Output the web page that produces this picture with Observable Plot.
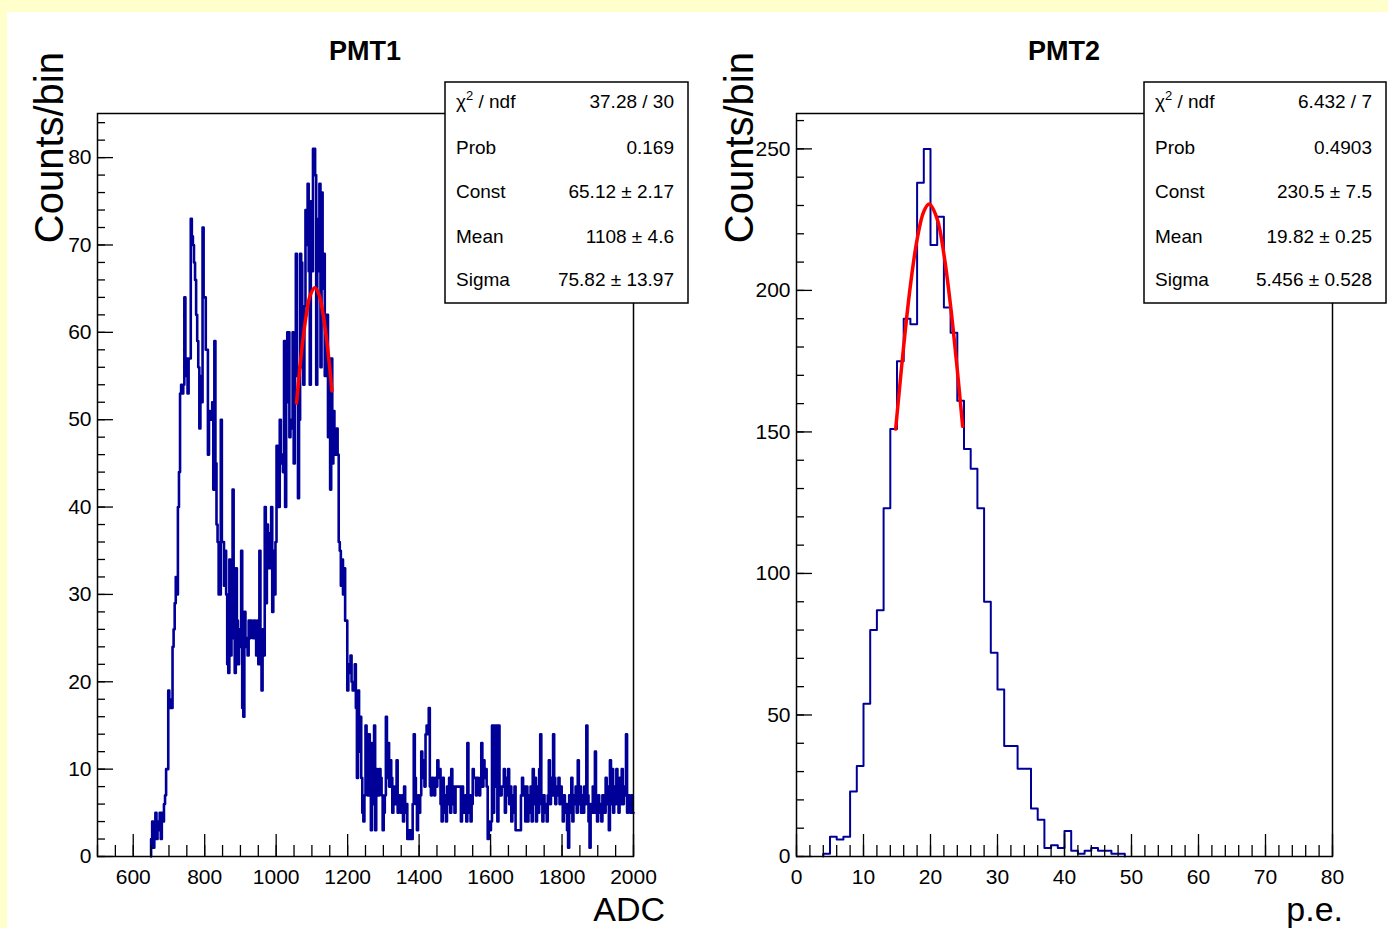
<!DOCTYPE html>
<html><head><meta charset="utf-8">
<script src="https://cdn.jsdelivr.net/npm/d3@7"></script>
<script src="https://cdn.jsdelivr.net/npm/@observablehq/plot@0.6"></script>
<style>
html,body{margin:0;padding:0;}
body{width:1388px;height:928px;background:#ffffcc;position:relative;overflow:hidden;font-family:"Liberation Sans",Arial,Helvetica,sans-serif;}
#canvas{position:absolute;left:7px;top:12px;right:0;bottom:0;background:#fff;}
.panel{position:absolute;top:0;}
</style>
</head><body>
<div id="canvas"></div>
<div id="p1" class="panel" style="left:0px"></div>
<div id="p2" class="panel" style="left:694px"></div>
<script>
// ---------------- DATA ----------------
// PMT1: ADC histogram, bin width 3, first non-empty bin starts at 650
const pmt1Start = 650, pmt1BinWidth = 3;
const pmt1Counts = [
 2,4,1,3,5,2,4,3,5,2,
 5,4,6,7,10,10,19,18,17,17,
 24,26,29,32,30,40,44,53,54,53,
 54,64,55,57,53,57,57,73,71,70,
 68,66,62,59,56,49,55,52,72,64,
 64,58,58,46,51,50,51,52,42,59,
 45,38,36,30,30,50,36,36,31,35,
 30,22,21,34,23,28,42,25,21,33,
 27,22,26,24,35,17,16,28,24,25,
 23,27,25,27,26,25,27,26,23,27,
 22,35,24,19,26,23,40,29,38,33,
 37,33,40,28,35,30,36,47,42,40,
 50,45,46,44,59,40,52,60,60,48,
 50,49,60,45,55,69,56,41,50,69,
 68,56,54,63,74,70,77,67,54,75,
 67,81,81,78,54,67,73,77,56,76,
 65,69,55,62,62,48,57,42,57,45,
 51,47,46,49,46,36,35,31,34,30,
 33,27,27,19,22,21,23,20,19,19,
 22,17,9,19,12,16,9,5,4,7,
 15,12,7,14,9,3,13,6,15,3,
 10,8,7,10,9,7,3,5,7,16,
 9,13,8,11,9,5,8,6,7,11,
 5,7,6,5,7,4,8,5,6,2,
 3,2,3,2,6,14,9,6,3,7,
 5,7,12,9,11,8,14,15,14,17,
 8,7,9,8,7,9,8,11,9,10,
 6,4,9,5,7,4,8,6,9,5,
 10,6,8,5,8,8,8,8,8,4,
 8,6,5,7,4,13,5,7,4,6,
 10,9,9,7,9,8,7,9,13,8,
 11,9,10,8,2,4,3,4,15,5,
 15,8,15,4,15,7,7,8,8,10,
 5,9,7,10,6,8,4,7,5,8,
 3,3,3,3,3,7,9,7,8,4,
 8,4,7,5,8,4,10,6,9,4,
 8,5,10,14,6,4,7,5,6,4,
 7,11,6,9,7,14,9,6,8,7,
 9,6,8,7,4,7,5,6,3,1,
 7,5,9,4,7,6,8,5,11,6,
 8,5,7,5,8,6,15,7,4,1,
 6,5,8,5,12,6,4,7,5,6,
 4,7,6,5,9,6,8,3,11,6,
 10,5,8,6,10,7,5,9,6,10,
 6,8,7,14,5,7,6,5,7,5
];
// PMT2: p.e. histogram, bin width 1, first non-empty bin starts at 4
const pmt2Start = 4, pmt2BinWidth = 1;
const pmt2Counts = [1,7,6,7,23,32,54,80,87,123,151,175,190,188,238,250,216,226,194,185,161,144,137,123,90,72,59,39,39,31,31,17,13,3,4,3,9,2,1,2,3,2,2,1,1];

// Gaussian fit curves
const fit1X = [1057,1065,1075,1085,1095,1108,1120,1130,1140,1150,1156];
const fit1Y = [51.9,55.4,59.2,62.2,64.2,65.1,64.3,62.4,59.6,55.9,53.3];
const fit2X = [14.8,15,16,17,18,19,19.82,21,22,23,24,24.8];
const fit2Y = [151,156,180.4,201.7,218,227.9,230.5,225.2,212.8,194.5,171.9,152];

// axes
const x1Domain = [500, 2000], y1Domain = [0, 85.05];
const x2Domain = [0, 80], y2Domain = [0, 262.5];
const x1Major = [600,800,1000,1200,1400,1600,1800,2000];
const x1Minor = d3.range(500, 2001, 50);
const y1Major = [0,10,20,30,40,50,60,70,80];
const y1Minor = d3.range(0, 85, 2);
const x2Major = [0,10,20,30,40,50,60,70,80];
const x2Minor = d3.range(0, 81, 2);
const y2Major = [0,50,100,150,200,250];
const y2Minor = d3.range(0, 261, 10);

// text
const titles = ["PMT1", "PMT2"];
const xTitles = ["ADC", "p.e."];
const yTitle = "Counts/bin";
const statLabels = ["χ2 / ndf", "Prob", "Const", "Mean", "Sigma"];
const pmt1Stats = ["37.28 / 30", "0.169", "65.12 ± 2.17", "1108 ± 4.6", "75.82 ± 13.97"];
const pmt2Stats = ["6.432 / 7", "0.4903", "230.5 ± 7.5", "19.82 ± 0.25", "5.456 ± 0.528"];

// ---------------- BUILD ----------------
const FONT = '"Liberation Sans", Arial, Helvetica, sans-serif';
const W = 694, H = 928, MT = 113, MB = 72;
const frameH = H - MT - MB;

function histPoints(start, bw, counts) {
  const pts = [{x: start, y: 0}];
  counts.forEach((c, i) => pts.push({x: start + bw * i, y: c}));
  pts.push({x: start + bw * counts.length, y: counts[counts.length - 1]});
  return pts;
}
function histPointsClosed(start, bw, counts) {
  const pts = histPoints(start, bw, counts);
  pts.push({x: start + bw * counts.length, y: 0});
  return pts;
}

function panel({ml, mr, xDomain, yDomain, hist, histWidth, fitX, fitY, xMajor, xMinor, yMajor, yMinor}) {
  const frameW = W - ml - mr;
  return Plot.plot({
    width: W, height: H,
    marginLeft: ml, marginRight: mr, marginTop: MT, marginBottom: MB,
    x: {domain: xDomain},
    y: {domain: yDomain},
    style: {background: "transparent", fontFamily: FONT, color: "black"},
    marks: [
      Plot.line(hist, {x: "x", y: "y", curve: "step-after", stroke: "#000099", strokeWidth: histWidth}),
      Plot.line(fitX.map((x, i) => ({x, y: fitY[i]})), {x: "x", y: "y", curve: "catmull-rom", stroke: "#ff0000", strokeWidth: 3.5}),
      Plot.tickX(xMinor, {x: d => d, insetTop: frameH - 11, stroke: "black", strokeWidth: 1.3}),
      Plot.tickX(xMajor, {x: d => d, insetTop: frameH - 22, stroke: "black", strokeWidth: 1.3}),
      Plot.tickY(yMinor, {y: d => d, insetRight: frameW - 8, stroke: "black", strokeWidth: 1.3}),
      Plot.tickY(yMajor, {y: d => d, insetRight: frameW - 16, stroke: "black", strokeWidth: 1.3}),
      Plot.axisX(xMajor, {tickSize: 0, tickPadding: 13, fontSize: 21, label: null, tickFormat: d => String(d)}),
      Plot.axisY(yMajor, {tickSize: 0, tickPadding: 6, fontSize: 21, label: null, tickFormat: d => String(d)}),
      Plot.frame({stroke: "black", strokeWidth: 1.5})
    ]
  });
}

document.getElementById("p1").appendChild(panel({
  ml: 97, mr: 61, xDomain: x1Domain, yDomain: y1Domain,
  hist: histPoints(pmt1Start, pmt1BinWidth, pmt1Counts), histWidth: 2.6, fitX: fit1X, fitY: fit1Y,
  xMajor: x1Major, xMinor: x1Minor, yMajor: y1Major, yMinor: y1Minor
}));
document.getElementById("p2").appendChild(panel({
  ml: 102, mr: 56, xDomain: x2Domain, yDomain: y2Domain,
  hist: histPointsClosed(pmt2Start, pmt2BinWidth, pmt2Counts), histWidth: 2, fitX: fit2X, fitY: fit2Y,
  xMajor: x2Major, xMinor: x2Minor, yMajor: y2Major, yMinor: y2Minor
}));

// ---------------- TEXT OVERLAY ----------------
const ov = d3.select("body").append("svg")
  .attr("width", 1388).attr("height", 928)
  .style("position", "absolute").style("left", 0).style("top", 0)
  .style("font-family", FONT);

// titles
[[365, titles[0]], [1064, titles[1]]].forEach(([x, t]) => {
  ov.append("text").attr("x", x).attr("y", 60).attr("text-anchor", "middle")
    .attr("font-size", 27).attr("font-weight", "bold").text(t);
});
// y titles
[63, 753].forEach(x => {
  ov.append("text").attr("transform", `translate(${x},52) rotate(-90)`)
    .attr("text-anchor", "end").attr("font-size", 40).text(yTitle);
});
// x titles
[[665, xTitles[0]], [1343, xTitles[1]]].forEach(([x, t]) => {
  ov.append("text").attr("x", x).attr("y", 920.5).attr("text-anchor", "end")
    .attr("font-size", 34).text(t);
});

// stats boxes
const rowBase = [108, 154, 198, 243, 286];
function statsBox(x0, y0, x1, y1, vals) {
  ov.append("rect").attr("x", x0).attr("y", y0).attr("width", x1 - x0).attr("height", y1 - y0)
    .attr("fill", "white").attr("stroke", "black").attr("stroke-width", 1.5);
  statLabels.forEach((lab, i) => {
    const t = ov.append("text").attr("x", x0 + 11).attr("y", rowBase[i]).attr("font-size", 19);
    if (i === 0) {
      t.append("tspan").text("χ");
      t.append("tspan").attr("font-size", 13).attr("dy", -8).text("2");
      t.append("tspan").attr("dy", 8).text(" / ndf");
    } else t.text(lab);
    ov.append("text").attr("x", x1 - 14).attr("y", rowBase[i]).attr("font-size", 19)
      .attr("text-anchor", "end").text(vals[i]);
  });
}
statsBox(445, 82, 688, 303, pmt1Stats);
statsBox(1144, 82, 1386, 303, pmt2Stats);
</script>
</body></html>
